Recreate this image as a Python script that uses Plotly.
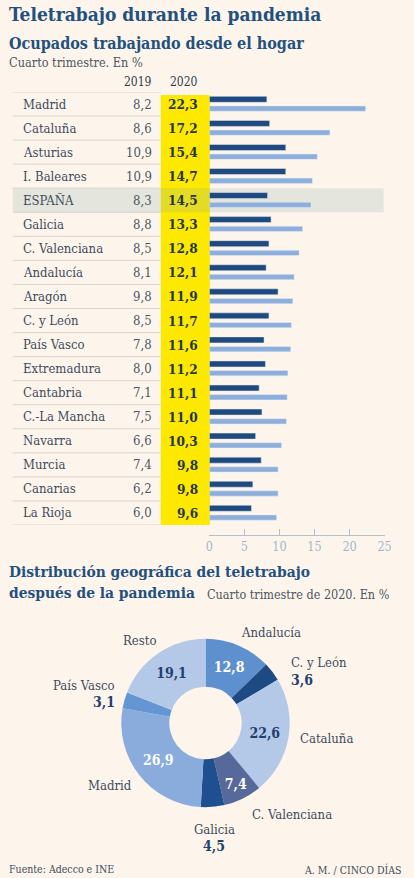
import plotly.graph_objects as go

# ---------------- data ----------------
regions = ["Madrid", "Cataluña", "Asturias", "I. Baleares", "ESPAÑA", "Galicia",
           "C. Valenciana", "Andalucía", "Aragón", "C. y León", "País Vasco",
           "Extremadura", "Cantabria", "C.-La Mancha", "Navarra", "Murcia",
           "Canarias", "La Rioja"]
v2019 = [8.2, 8.6, 10.9, 10.9, 8.3, 8.8, 8.5, 8.1, 9.8, 8.5, 7.8, 8.0, 7.1, 7.5,
         6.6, 7.4, 6.2, 6.0]
v2020 = [22.3, 17.2, 15.4, 14.7, 14.5, 13.3, 12.8, 12.1, 11.9, 11.7, 11.6, 11.2,
         11.1, 11.0, 10.3, 9.8, 9.8, 9.6]
x_ticks = [0, 5, 10, 15, 20, 25]
year_labels = ["2019", "2020"]

donut_labels = ["Andalucía", "C. y León", "Cataluña", "C. Valenciana", "Galicia",
                "Madrid", "País Vasco", "Resto"]
donut_values = [12.8, 3.6, 22.6, 7.4, 4.5, 26.9, 3.1, 19.1]

# ---------------- style ----------------
W, H = 414, 878
BG = "#fdf5ec"
FONT = "DejaVu Serif Condensed, DejaVu Serif"
TITLE_C = "#22507f"
TEXT_C = "#3d4b5c"
DARK = "#1f4a80"
LIGHT = "#8eaedc"
YELLOW = "#fde900"
donut_colors = ["#5e8fce", "#1d4a82", "#b4c8e8", "#56699a", "#1e4f8e",
                "#89acdd", "#6596d4", "#b4c8e8"]
inner_text_colors = ["#ffffff", "#ffffff", "#1f3f70", "#ffffff", "#ffffff",
                     "#ffffff", "#ffffff", "#1f3f70"]


def fmt(v):
    return f"{v:.1f}".replace(".", ",")


def px(x):
    return x / W


def py(y):
    return 1 - y / H


n = len(regions)
rows = list(range(n))

fig = go.Figure()

fig.add_trace(go.Bar(x=v2019, y=rows, orientation="h", marker_color=DARK,
                     width=0.25, offset=-0.32, hoverinfo="skip", name="2019"))
fig.add_trace(go.Bar(x=v2020, y=rows, orientation="h", marker_color=LIGHT,
                     width=0.22, offset=0.08, hoverinfo="skip", name="2020"))

cx, cy, r = 207, 723, 86.5
fig.add_trace(go.Pie(
    labels=donut_labels, values=donut_values, sort=False, direction="clockwise",
    rotation=0, hole=0.43,
    marker=dict(colors=donut_colors, line=dict(width=0)),
    text=[f"<b>{fmt(v)}</b>" if v > 5 else "" for v in donut_values],
    textinfo="text", textposition="inside", insidetextorientation="horizontal",
    textfont=dict(family=FONT, size=14, color=inner_text_colors),
    domain=dict(x=[px(cx - r), px(cx + r)], y=[py(cy + r), py(cy - r)]),
    hoverinfo="skip", showlegend=False))

annotations = []


def ann(text, x, y, size, color=TEXT_C, bold=False, xanchor="left", yref="paper"):
    annotations.append(dict(
        text=f"<b>{text}</b>" if bold else text,
        x=px(x), xref="paper",
        y=(y if yref == "y" else py(y)), yref=yref,
        xanchor=xanchor, yanchor="middle", showarrow=False,
        font=dict(family=FONT, size=size, color=color)))


# titles
ann("Teletrabajo durante la pandemia", 3, 14, 19, TITLE_C, bold=True)
ann("Ocupados trabajando desde el hogar", 3, 43, 16, TITLE_C, bold=True)
ann("Cuarto trimestre. En %", 3, 63, 12.6, "#4d5660")
ann(year_labels[0], 154, 82, 12, "#2e3b49", xanchor="right")
ann(year_labels[1], 201, 82, 12, "#2e3b49", xanchor="right")

# table rows
for i, reg in enumerate(regions):
    ann(reg, 17, i, 13, TEXT_C, yref="y")
    ann(fmt(v2019[i]), 154, i, 13, "#4a5665", xanchor="right", yref="y")
    ann(fmt(v2020[i]), 201, i, 13.5, "#263640", bold=True, xanchor="right", yref="y")

# second section
ann("Distribución geográfica del teletrabajo", 3, 572, 15.4, TITLE_C, bold=True)
ann("después de la pandemia", 3, 593, 15.4, TITLE_C, bold=True)
ann("Cuarto trimestre de 2020. En %", 399, 594, 12.5, "#4d5660", xanchor="right")

# donut outside labels
lab = dict(zip(donut_labels, donut_values))
ann("Andalucía", 274, 632, 13, TEXT_C, xanchor="center")
ann("C. y León", 293, 662, 13, TEXT_C)
ann(fmt(lab["C. y León"]), 293, 680, 14, "#1f3f6e", bold=True)
ann("Cataluña", 302, 738, 13, TEXT_C)
ann("C. Valenciana", 253, 814, 13, TEXT_C)
ann("Galicia", 216, 829, 13, TEXT_C, xanchor="center")
ann(fmt(lab["Galicia"]), 216, 846, 14, "#1f3f6e", bold=True, xanchor="center")
ann("Madrid", 109, 785, 13, TEXT_C, xanchor="center")
ann("País Vasco", 116, 685, 13, TEXT_C, xanchor="right")
ann(fmt(lab["País Vasco"]), 116, 702, 14, "#1f3f6e", bold=True, xanchor="right")
ann("Resto", 139, 640, 13, TEXT_C, xanchor="center")

# footer
ann("Fuente: Adecco e INE", 3, 869, 10.5, TEXT_C)
ann("A. M. / CINCO DÍAS", 410, 869, 10.5, TEXT_C, xanchor="right")

shapes = []
shapes.append(dict(type="rect", xref="paper", yref="y", x0=px(161), x1=px(211.5),
                   y0=-0.375, y1=n - 0.5, fillcolor=YELLOW, line=dict(width=0),
                   layer="below"))
shapes.append(dict(type="rect", xref="paper", yref="y", x0=px(9), x1=px(390),
                   y0=3.5, y1=4.5, fillcolor="rgba(140,175,165,0.22)",
                   line=dict(width=0), layer="below"))
for k in range(n + 1):
    shapes.append(dict(type="line", xref="paper", yref="y", x0=px(9), x1=px(161),
                       y0=k - 0.5, y1=k - 0.5, line=dict(color="#d9d5ce", width=1),
                       layer="below"))

fig.update_layout(
    width=W, height=H, margin=dict(l=0, r=0, t=0, b=0),
    paper_bgcolor=BG, plot_bgcolor="rgba(0,0,0,0)",
    showlegend=False, barmode="overlay",
    annotations=annotations, shapes=shapes,
    xaxis=dict(domain=[px(211), px(391)], range=[0, 25], anchor="free",
               position=py(535), tickvals=x_ticks, ticks="inside", ticklen=6,
               tickcolor="#b3bfcb", showline=True, linecolor="#b3bfcb",
               showgrid=False, zeroline=False, fixedrange=True,
               tickfont=dict(family=FONT, size=12.5, color="#a3b5cb")),
    yaxis=dict(domain=[py(525), py(92)], range=[n - 0.5, -0.5],
               showticklabels=False, showgrid=False, zeroline=False,
               showline=False, ticks="", fixedrange=True),
)

fig.write_html("out.html",
               config={"displayModeBar": False, "responsive": False},
               post_script="document.body.style.margin='0';"
                           "document.body.style.padding='0';"
                           "document.body.style.overflow='hidden';"
                           "document.documentElement.style.overflow='hidden';"
                           "document.body.style.background='" + BG + "';")
